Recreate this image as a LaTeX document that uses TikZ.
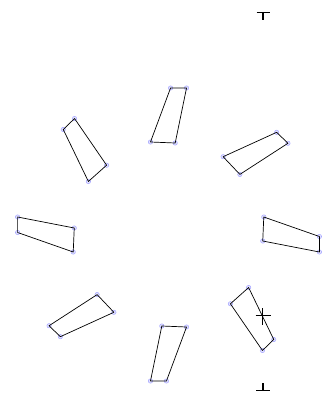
\documentclass[tikz,border=0pt]{standalone}
\begin{document}
\begin{tikzpicture}[x=1pt,y=-1pt,
  edge/.style={line width=0.7pt, line join=round},
  vmark/.style={circle, inner sep=0pt, minimum size=4.4pt, draw=blue!35!white, fill=blue!12, line width=0.5pt},
  tickline/.style={line width=0.9pt},
  tickstem/.style={line width=1.3pt}]
\useasboundingbox (0,0) rectangle (324,393);
\foreach \k in {0,...,7}{
  \pgfmathsetmacro{\t}{45*\k}
  \foreach \n/\px/\py in {a/2/-146.5, b/17.5/-146.5, c/6.5/-91.5, d/-17.5/-92.5}{
    \coordinate (q\k\n) at ({168.5+1.03*((\px)*cos(\t) - (\py)*sin(\t))}, {234.5 + (\px)*sin(\t) + (\py)*cos(\t)});
    \node[vmark] (m\k\n) at (q\k\n) {};
  }
  \draw[edge] (q\k a) -- (q\k b) -- (q\k c) -- (q\k d) -- cycle;
}
% top marker
\coordinate (tl) at (256.5,12);
\coordinate (tr) at (269.5,12);
\coordinate (tm) at (263,12);
\coordinate (tb) at (263,20);
\draw[tickline] (tl) -- (tr);
\draw[tickstem] (tm) -- (tb);
% bottom marker
\coordinate (bl) at (256,390);
\coordinate (br) at (270,390);
\coordinate (bm) at (263,390);
\coordinate (bt) at (263,383);
\draw[tickline] (bl) -- (br);
\draw[tickstem] (bt) -- (bm);
% middle cross
\coordinate (cl) at (255.5,315.5);
\coordinate (cr) at (270.5,315.5);
\coordinate (ct) at (262.5,308);
\coordinate (cb) at (262.5,325);
\draw[tickline] (cl) -- (cr);
\draw[tickstem] (ct) -- (cb);
\end{tikzpicture}
\end{document}
